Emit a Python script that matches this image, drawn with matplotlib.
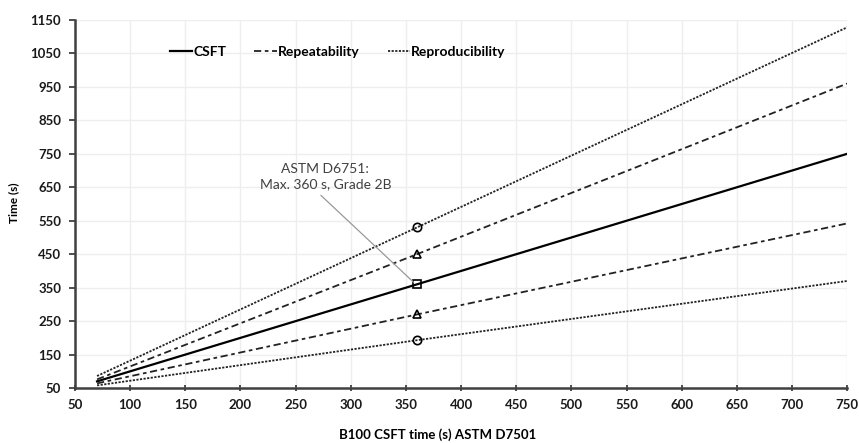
import matplotlib.pyplot as plt

plt.rcParams['font.family'] = ['Lato', 'DejaVu Sans']

# B100 CSFT time (s) and the precision limits
x_vals = [70, 360, 750]
csft = [70, 360, 750]
repeat_hi = [76, 450, 960]
repeat_lo = [64, 270, 542]
repro_hi = [86, 530, 1128]
repro_lo = [58, 193, 370]

spec_x = 360
x_ticks = list(range(50, 751, 50))
y_ticks = list(range(50, 1151, 100))

fig = plt.figure(figsize=(8.59, 4.43), dpi=100)
ax = fig.add_axes([0.0873, 0.124, 0.899, 0.831])

lw = 1.3
ax.plot(x_vals, csft, color='black', lw=1.6, ls='-', label='CSFT')
ax.plot(x_vals, repeat_hi, color='#222222', lw=lw, ls=(0, (4, 2, 2, 2)), label='Repeatability')
ax.plot(x_vals, repeat_lo, color='#222222', lw=lw, ls=(0, (4, 2, 2, 2)))
ax.plot(x_vals, repro_hi, color='#222222', lw=lw, ls=(0, (1.2, 0.8)), label='Reproducibility')
ax.plot(x_vals, repro_lo, color='#222222', lw=lw, ls=(0, (1.2, 0.8)))

# markers at the spec limit
i = x_vals.index(spec_x)
mk = dict(mfc='none', mec='black', mew=1.2, ms=6, ls='none')
ax.plot([spec_x], [csft[i]], marker='s', **mk)
ax.plot([spec_x, spec_x], [repeat_hi[i], repeat_lo[i]], marker='^', **mk)
ax.plot([spec_x, spec_x], [repro_hi[i], repro_lo[i]], marker='o', **mk)

ax.annotate('ASTM D6751:\nMax. 360 s, Grade 2B', xy=(spec_x - 3, csft[i] + 6),
            xytext=(277, 683), ha='center', va='center', fontsize=10,
            color='#404040', linespacing=1.3,
            arrowprops=dict(arrowstyle='-', color='#999999', lw=0.9,
                            relpos=(0.42, 0), shrinkA=3, shrinkB=0))

ax.set_xlim(50, 750)
ax.set_ylim(50, 1150)
ax.set_xticks(x_ticks)
ax.set_yticks(y_ticks)
ax.grid(True, color='#eeeeee', lw=1)
ax.set_axisbelow(True)

for s in ['top', 'right']:
    ax.spines[s].set_visible(False)
for s in ['left', 'bottom']:
    ax.spines[s].set_color('#404040')
    ax.spines[s].set_linewidth(1.8)
ax.tick_params(axis='both', length=4, width=1.3, color='#404040', labelsize=9.5, pad=6)
ax.tick_params(axis='x', direction='inout')
for lab in ax.get_xticklabels() + ax.get_yticklabels():
    lab.set_fontweight('bold')
    lab.set_color('#1a1a1a')

ax.set_xlabel('B100 CSFT time (s) ASTM D7501', fontsize=9.5, fontweight='bold')
ax.xaxis.set_label_coords(0.469, -0.108)
ax.set_ylabel('Time (s)', fontsize=8.5, fontweight='bold')
ax.yaxis.set_label_coords(-0.072, 0.503)

leg = ax.legend(loc='center left', bbox_to_anchor=(0.123, 0.913), ncol=3, frameon=False,
                handlelength=1.6, handletextpad=0.1, columnspacing=2.0,
                borderpad=0, borderaxespad=0,
                prop={'weight': 'bold', 'size': 10})

fig.savefig('out.png', dpi=100)
